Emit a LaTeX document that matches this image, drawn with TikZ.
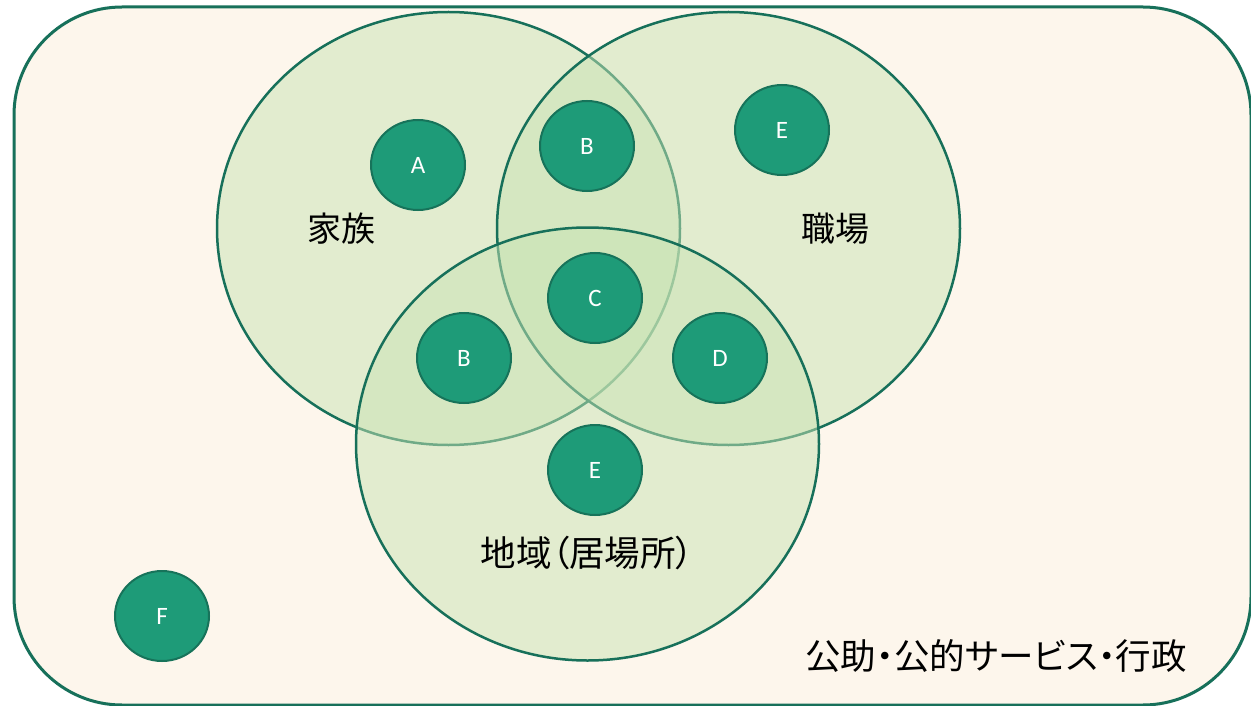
\documentclass[tikz,border=0pt]{standalone}
\usepackage{fontspec}
\setmainfont{Carlito}
\newfontfamily\jp{Noto Sans CJK JP}
\newfontfamily\jpp{Noto Sans CJK JP}[RawFeature=+palt]
\usetikzlibrary{shapes.geometric}
\definecolor{bgc}{HTML}{FDF6EC}
\definecolor{linec}{HTML}{17705A}
\definecolor{venn}{HTML}{C9E4B4}
\definecolor{dotc}{HTML}{1E9B78}
\definecolor{dotline}{HTML}{17735A}
\tikzset{
  setbox/.style={ellipse, draw=linec, line width=2.5pt, fill=venn, fill opacity=0.5, draw opacity=1,
    minimum width=463pt, minimum height=433pt, inner sep=0pt},
  member/.style={ellipse, draw=dotline, line width=2pt, fill=dotc, minimum width=94pt, minimum height=90pt,
    inner sep=0pt, text=white, font=\fontsize{25}{30}\selectfont},
  jplabel/.style={text=black, font=\jp\fontsize{34}{40}\selectfont, inner sep=0pt},
  jplabelp/.style={text=black, font=\jpp\fontsize{35.5}{40}\selectfont, inner sep=0pt}
}
\begin{document}
\begin{tikzpicture}[x=1pt,y=-1pt]
\useasboundingbox (0,0) rectangle (1251,706);
\draw[line width=3pt, draw=linec, fill=bgc, rounded corners=108pt] (14,7) rectangle (1251,705);
\node[setbox] (family) at (448.5,228.5) {};
\node[setbox] (work) at (728.5,228.5) {};
\node[setbox] (local) at (587.5,444) {};
\node[jplabel] (lfamily) at (341,229) {家族};
\node[jplabel] (lwork) at (835,229) {職場};
\node[jplabelp] (llocal) at (587,553) {地域（居場所）};
\node[jplabelp] (lpublic) at (996,656) {公助・公的サービス・行政};
\node[member] (A) at (418,165) {A};
\node[member] (B1) at (587,146) {B};
\node[member] (E1) at (782,130) {E};
\node[member] (C) at (595,298) {C};
\node[member] (B2) at (464,358) {B};
\node[member] (D) at (720,358) {D};
\node[member] (E2) at (595,470) {E};
\node[member] (F) at (162,616) {F};
\end{tikzpicture}
\end{document}
